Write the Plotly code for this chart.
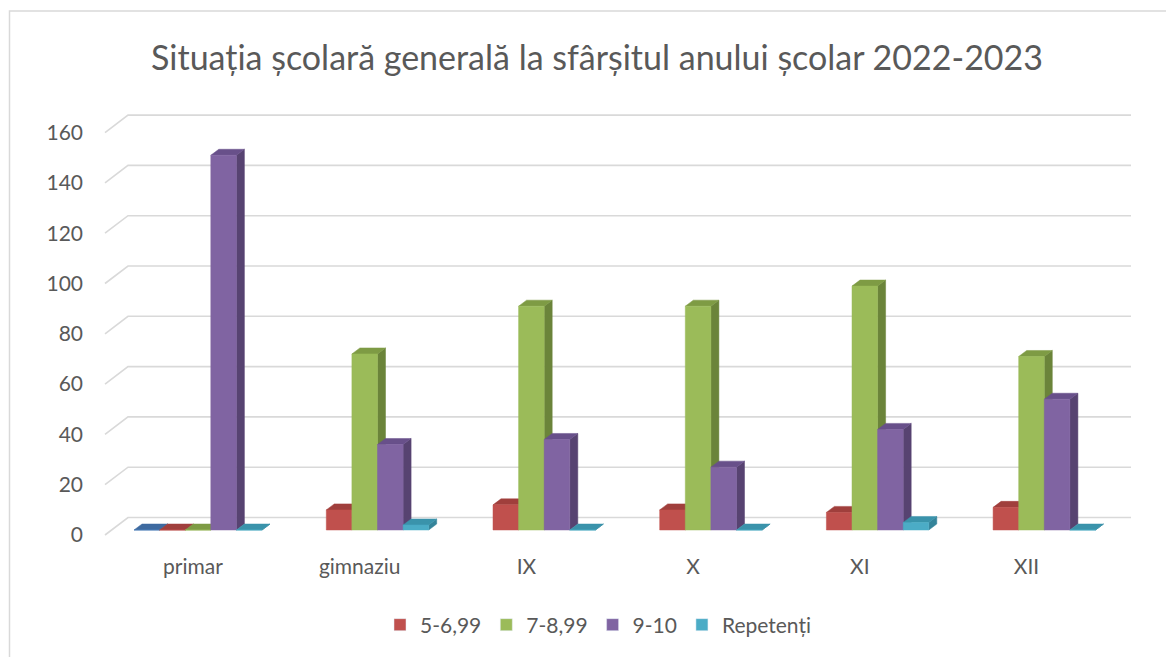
import plotly.graph_objects as go

# ---------------- data ----------------
categories = ["primar", "gimnaziu", "IX", "X", "XI", "XII"]
series_names = ["5-6,99", "7-8,99", "9-10", "Repetenți"]
vals_5_699 = [0, 8, 10, 8, 7, 9]
vals_7_899 = [0, 70, 89, 89, 97, 69]
vals_9_10 = [149, 34, 36, 25, 40, 52]
vals_repetenti = [0, 2, 0, 0, 3, 0]
vals_unnamed = [0, None, None, None, None, None]   # unnamed series (not in legend)
y_ticks = [0, 20, 40, 60, 80, 100, 120, 140, 160]

# ---------------- styling / geometry ----------------
OFF = 8                                        # page body margin
W, H = 1174 - OFF, 657 - OFF
PL, PR, PT, PB = 100, 1135, 100, 545          # plot area in reference pixels
PX_X, X0_PX = 166.7, 193                       # px per category, px of category 0 label
PX_Y, Y0_PX = 2.515, 535                       # px per unit, px of value 0 label

x_range = [(PL - X0_PX) / PX_X, (PR - X0_PX) / PX_X]
y_range = [(Y0_PX - PB) / PX_Y, (Y0_PX - PT) / PX_Y]

def ux(px):  # pixel distance -> x units
    return px / PX_X

def uy(px):  # pixel distance -> y units
    return px / PX_Y

BAR_DX, BAR_DY = ux(5), uy(5)      # bar front plane offset from label plane
SLOT = ux(25.6)                     # bar width
DDX, DDY = ux(8), uy(6)             # bar depth projection
WALL_DX, WALL_DY = ux(23), uy(17.5) # back wall offset
WALL_RIGHT = (1131 - X0_PX) / PX_X
FRONT_LEFT = (105 - X0_PX) / PX_X

series = [
    (None, vals_unnamed, ("#4F81BD", "#3E6AA0", "#385D8A")),
    (series_names[0], vals_5_699, ("#C0504D", "#A03F3C", "#8C3836")),
    (series_names[1], vals_7_899, ("#9BBB59", "#7E9B44", "#6B843A")),
    (series_names[2], vals_9_10, ("#8064A2", "#68508A", "#574371")),
    (series_names[3], vals_repetenti, ("#4BACC6", "#3A93AB", "#34849A")),
]
n_slots = len(series)

fig = go.Figure()

# back-wall gridlines with side-wall diagonals
gx, gy = [], []
for t in y_ticks:
    gx += [FRONT_LEFT, FRONT_LEFT + WALL_DX, WALL_RIGHT, None]
    gy += [t, t + WALL_DY, t + WALL_DY, None]
fig.add_trace(go.Scatter(x=gx, y=gy, mode="lines", line=dict(color="#D9D9D9", width=1.6),
                         hoverinfo="skip", showlegend=False))

# pseudo-3D columns
for j, (name, vals, (c_front, c_top, c_side)) in enumerate(series):
    fx, fy, tx, ty, sx, sy = [], [], [], [], [], []
    for i, v in enumerate(vals):
        if v is None:
            continue
        xl = i + BAR_DX + (j - n_slots / 2) * SLOT
        xr = xl + SLOT
        yb = BAR_DY
        yt = yb + v
        fx += [xl, xr, xr, xl, xl, None]
        fy += [yb, yb, yt, yt, yb, None]
        tx += [xl, xr, xr + DDX, xl + DDX, xl, None]
        ty += [yt, yt, yt + DDY, yt + DDY, yt, None]
        sx += [xr, xr + DDX, xr + DDX, xr, xr, None]
        sy += [yb, yb + DDY, yt + DDY, yt, yb, None]
    for xs, ys, col in ((sx, sy, c_side), (tx, ty, c_top), (fx, fy, c_front)):
        fig.add_trace(go.Scatter(x=xs, y=ys, mode="lines", fill="toself", fillcolor=col,
                                 line=dict(color=col, width=0.5), hoverinfo="skip",
                                 showlegend=False))
    if name is not None:
        fig.add_trace(go.Bar(x=[None], y=[None], name=name, marker_color=c_front))

# chart border (left and top edges visible)
def px_to_paper_x(px):
    return (px - PL) / (PR - PL)

def px_to_paper_y(py):
    return (PB - py) / (PB - PT)

fig.add_shape(type="rect", xref="paper", yref="paper",
              x0=px_to_paper_x(9.5), x1=px_to_paper_x(1190),
              y0=px_to_paper_y(680), y1=px_to_paper_y(11),
              line=dict(color="#D9D9D9", width=1.5), fillcolor="rgba(0,0,0,0)", layer="below")

FONT = "Lato"
TXT = "#595959"
fig.update_layout(
    width=W, height=H, autosize=False,
    margin=dict(l=PL - OFF, r=1174 - PR, t=PT - OFF, b=657 - PB),
    paper_bgcolor="white", plot_bgcolor="white",
    title=dict(text="Situația școlară generală la sfârșitul anului școlar 2022-2023",
               x=(597 - OFF) / W, xref="container", xanchor="center",
               y=1 - (58 - OFF) / H, yref="container", yanchor="middle",
               font=dict(family=FONT, size=34, color=TXT)),
    xaxis=dict(range=x_range, tickmode="array", tickvals=list(range(len(categories))),
               ticktext=categories, showgrid=False, zeroline=False, showline=False,
               ticks="", ticklabelstandoff=7,
               tickfont=dict(family=FONT, size=21, color=TXT), fixedrange=True),
    yaxis=dict(range=y_range, tickmode="array", tickvals=y_ticks,
               ticktext=[str(t) for t in y_ticks], showgrid=False, zeroline=False,
               showline=False, ticks="", ticklabelstandoff=16,
               tickfont=dict(family=FONT, size=21, color=TXT), fixedrange=True),
    legend=dict(orientation="h", x=px_to_paper_x(598), xanchor="center",
                y=px_to_paper_y(625), yanchor="middle",
                font=dict(family=FONT, size=21, color=TXT), itemclick=False),
    barmode="overlay",
    showlegend=True,
)

fig.write_html("out.html")
